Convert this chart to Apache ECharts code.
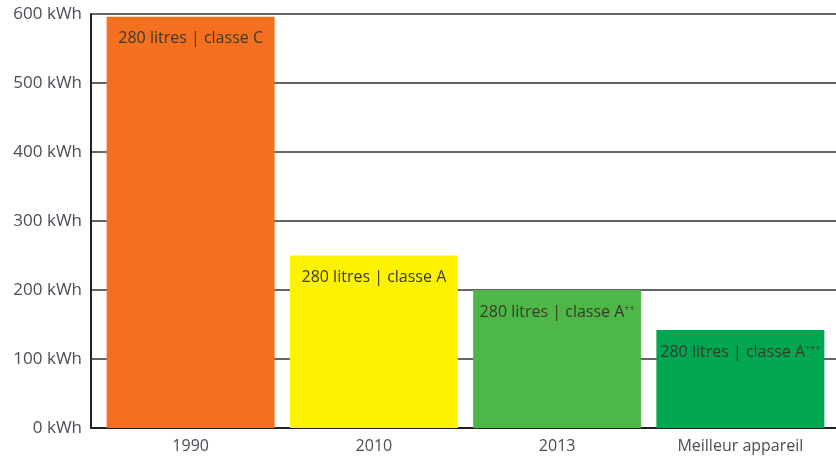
<!DOCTYPE html>
<html><head><meta charset="utf-8">
<script src="https://cdn.jsdelivr.net/npm/echarts@6/dist/echarts.min.js"></script>
<style>html,body{margin:0;padding:0;background:#fff}#c{width:836px;height:457px}</style>
</head><body><div id="c"></div>
<script>
const categories = ['1990', '2010', '2013', 'Meilleur appareil'];
const values = [596, 250, 200, 142];
const classes = ['C', 'A', 'A', 'A'];
const classSup = ['', '', '++', '+++'];
const barColors = ['#F37021', '#FFF200', '#4DB748', '#00A650'];
const yTicks = [0, 100, 200, 300, 400, 500, 600];

const font = "'Open Sans', Lato, sans-serif";
const chart = echarts.init(document.getElementById('c'));
chart.setOption({
  animation: false,
  grid: [
    {left: 91, right: 0, top: 14, bottom: 29},
    {left: 99, width: 733, top: 14, bottom: 29}
  ],
  xAxis: [
    {type: 'category', gridIndex: 0, data: categories, axisTick: {show: false},
     axisLabel: {show: false}, axisLine: {lineStyle: {color: '#222', width: 2}}},
    {type: 'category', gridIndex: 1, data: categories, axisTick: {show: false},
     axisLine: {show: false},
     axisLabel: {color: '#4a4d55', fontSize: 16, fontFamily: font, margin: 10}}
  ],
  yAxis: [
    {type: 'value', gridIndex: 0, min: yTicks[0], max: yTicks[yTicks.length - 1], interval: 100,
     axisLine: {show: true, lineStyle: {color: '#222', width: 2}}, axisTick: {show: false},
     axisLabel: {color: '#4a4d55', fontSize: 17, fontFamily: font, margin: 9,
       formatter: v => v + ' kWh'},
     splitLine: {lineStyle: {color: '#333', width: 1.5}}},
    {type: 'value', gridIndex: 1, min: yTicks[0], max: yTicks[yTicks.length - 1], interval: 100,
     show: false, splitLine: {show: false}}
  ],
  series: [{
    type: 'bar', xAxisIndex: 1, yAxisIndex: 1, barWidth: 168,
    data: values.map((v, i) => ({value: v, itemStyle: {color: barColors[i]},
      label: {formatter: '{t|280 litres | classe ' + classes[i] + '}' + (classSup[i] ? '{s|' + classSup[i] + '}' : '')}})),
    label: {show: true, position: 'insideTop', distance: 14,
      rich: {
        t: {color: '#3a3a2a', fontSize: 16, fontFamily: font},
        s: {color: '#3a3a2a', fontSize: 9, fontFamily: font, verticalAlign: 'top', padding: [0, 0, 8, 0]}
      }}
  }]
});
</script></body></html>
